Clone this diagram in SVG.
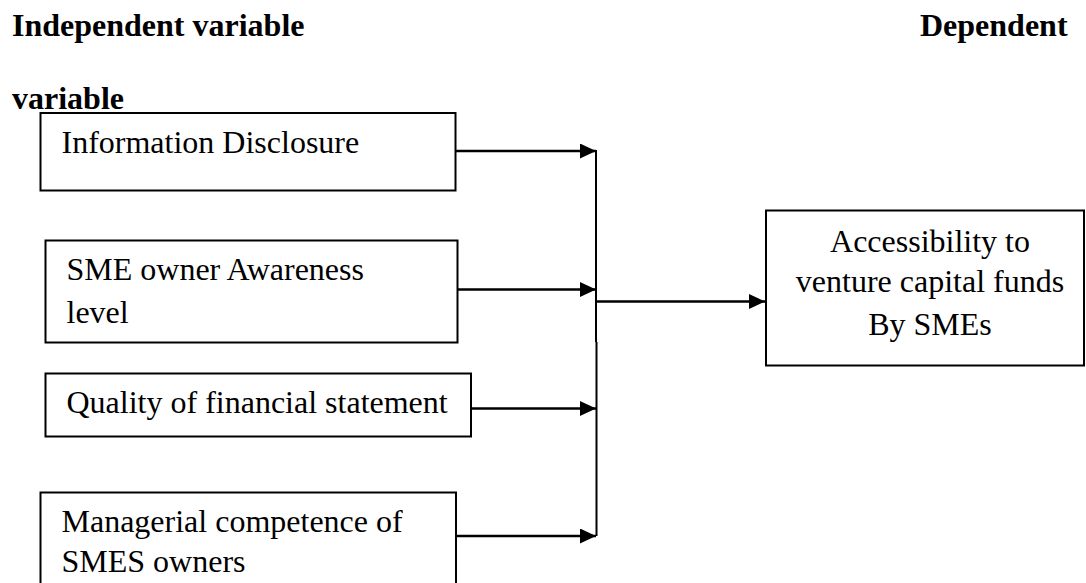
<svg xmlns="http://www.w3.org/2000/svg" width="1086" height="583" viewBox="0 0 1086 583">
  <style>
    .box { fill: #ffffff; stroke: #000000; stroke-width: 2; }
    .txt { font-family: "Liberation Serif", "Times New Roman", serif; font-size: 32px; fill: #000000; }
    .hdr { font-family: "Liberation Serif", "Times New Roman", serif; font-size: 32px; font-weight: bold; fill: #000000; }
    .conn { stroke: #000000; stroke-width: 2.5; fill: none; }
    .bus { stroke: #000000; stroke-width: 2; fill: none; }
  </style>
  <defs>
    <marker id="arrow" markerUnits="userSpaceOnUse" markerWidth="17" markerHeight="15" refX="16" refY="7.5" orient="auto">
      <path d="M0,0 L16,7.5 L0,15 Z" fill="#000000"/>
    </marker>
  </defs>
  <rect width="1086" height="583" fill="#ffffff"/>

  <g id="headers">
    <text class="hdr" x="12" y="36">Independent variable</text>
    <text class="hdr" x="920" y="36">Dependent</text>
    <text class="hdr" x="12" y="109">variable</text>
  </g>

  <g id="node-info">
    <rect class="box" x="40.5" y="113" width="415" height="77.5"/>
    <text class="txt" x="61.5" y="153">Information Disclosure</text>
  </g>

  <g id="node-awareness">
    <rect class="box" x="45.5" y="240.5" width="412" height="102"/>
    <text class="txt" x="66.5" y="280">SME owner Awareness</text>
    <text class="txt" x="66.5" y="323">level</text>
  </g>

  <g id="node-quality">
    <rect class="box" x="45.5" y="373.5" width="425.5" height="63"/>
    <text class="txt" x="66.5" y="413">Quality of financial statement</text>
  </g>

  <g id="node-managerial">
    <rect class="box" x="40.5" y="492.5" width="415.5" height="100"/>
    <text class="txt" x="61.5" y="531.5">Managerial competence of</text>
    <text class="txt" x="61.5" y="572">SMES owners</text>
  </g>

  <g id="node-access">
    <rect class="box" x="766" y="210.5" width="318" height="155"/>
    <text class="txt" x="930" y="251.5" text-anchor="middle">Accessibility to</text>
    <text class="txt" x="930" y="291.5" text-anchor="middle">venture capital funds</text>
    <text class="txt" x="930" y="335" text-anchor="middle">By SMEs</text>
  </g>

  <g id="connectors">
    <line class="bus" x1="596" y1="150" x2="596" y2="342"/>
    <line class="bus" x1="596.5" y1="342" x2="596.5" y2="536"/>
    <line class="conn" x1="455.5" y1="151" x2="596" y2="151" marker-end="url(#arrow)"/>
    <line class="conn" x1="457.5" y1="289.5" x2="596" y2="289.5" marker-end="url(#arrow)"/>
    <line class="conn" x1="471" y1="408.5" x2="596" y2="408.5" marker-end="url(#arrow)"/>
    <line class="conn" x1="456" y1="536" x2="596" y2="536" marker-end="url(#arrow)"/>
    <line class="conn" x1="596" y1="301.5" x2="765" y2="301.5" marker-end="url(#arrow)"/>
  </g>
</svg>
